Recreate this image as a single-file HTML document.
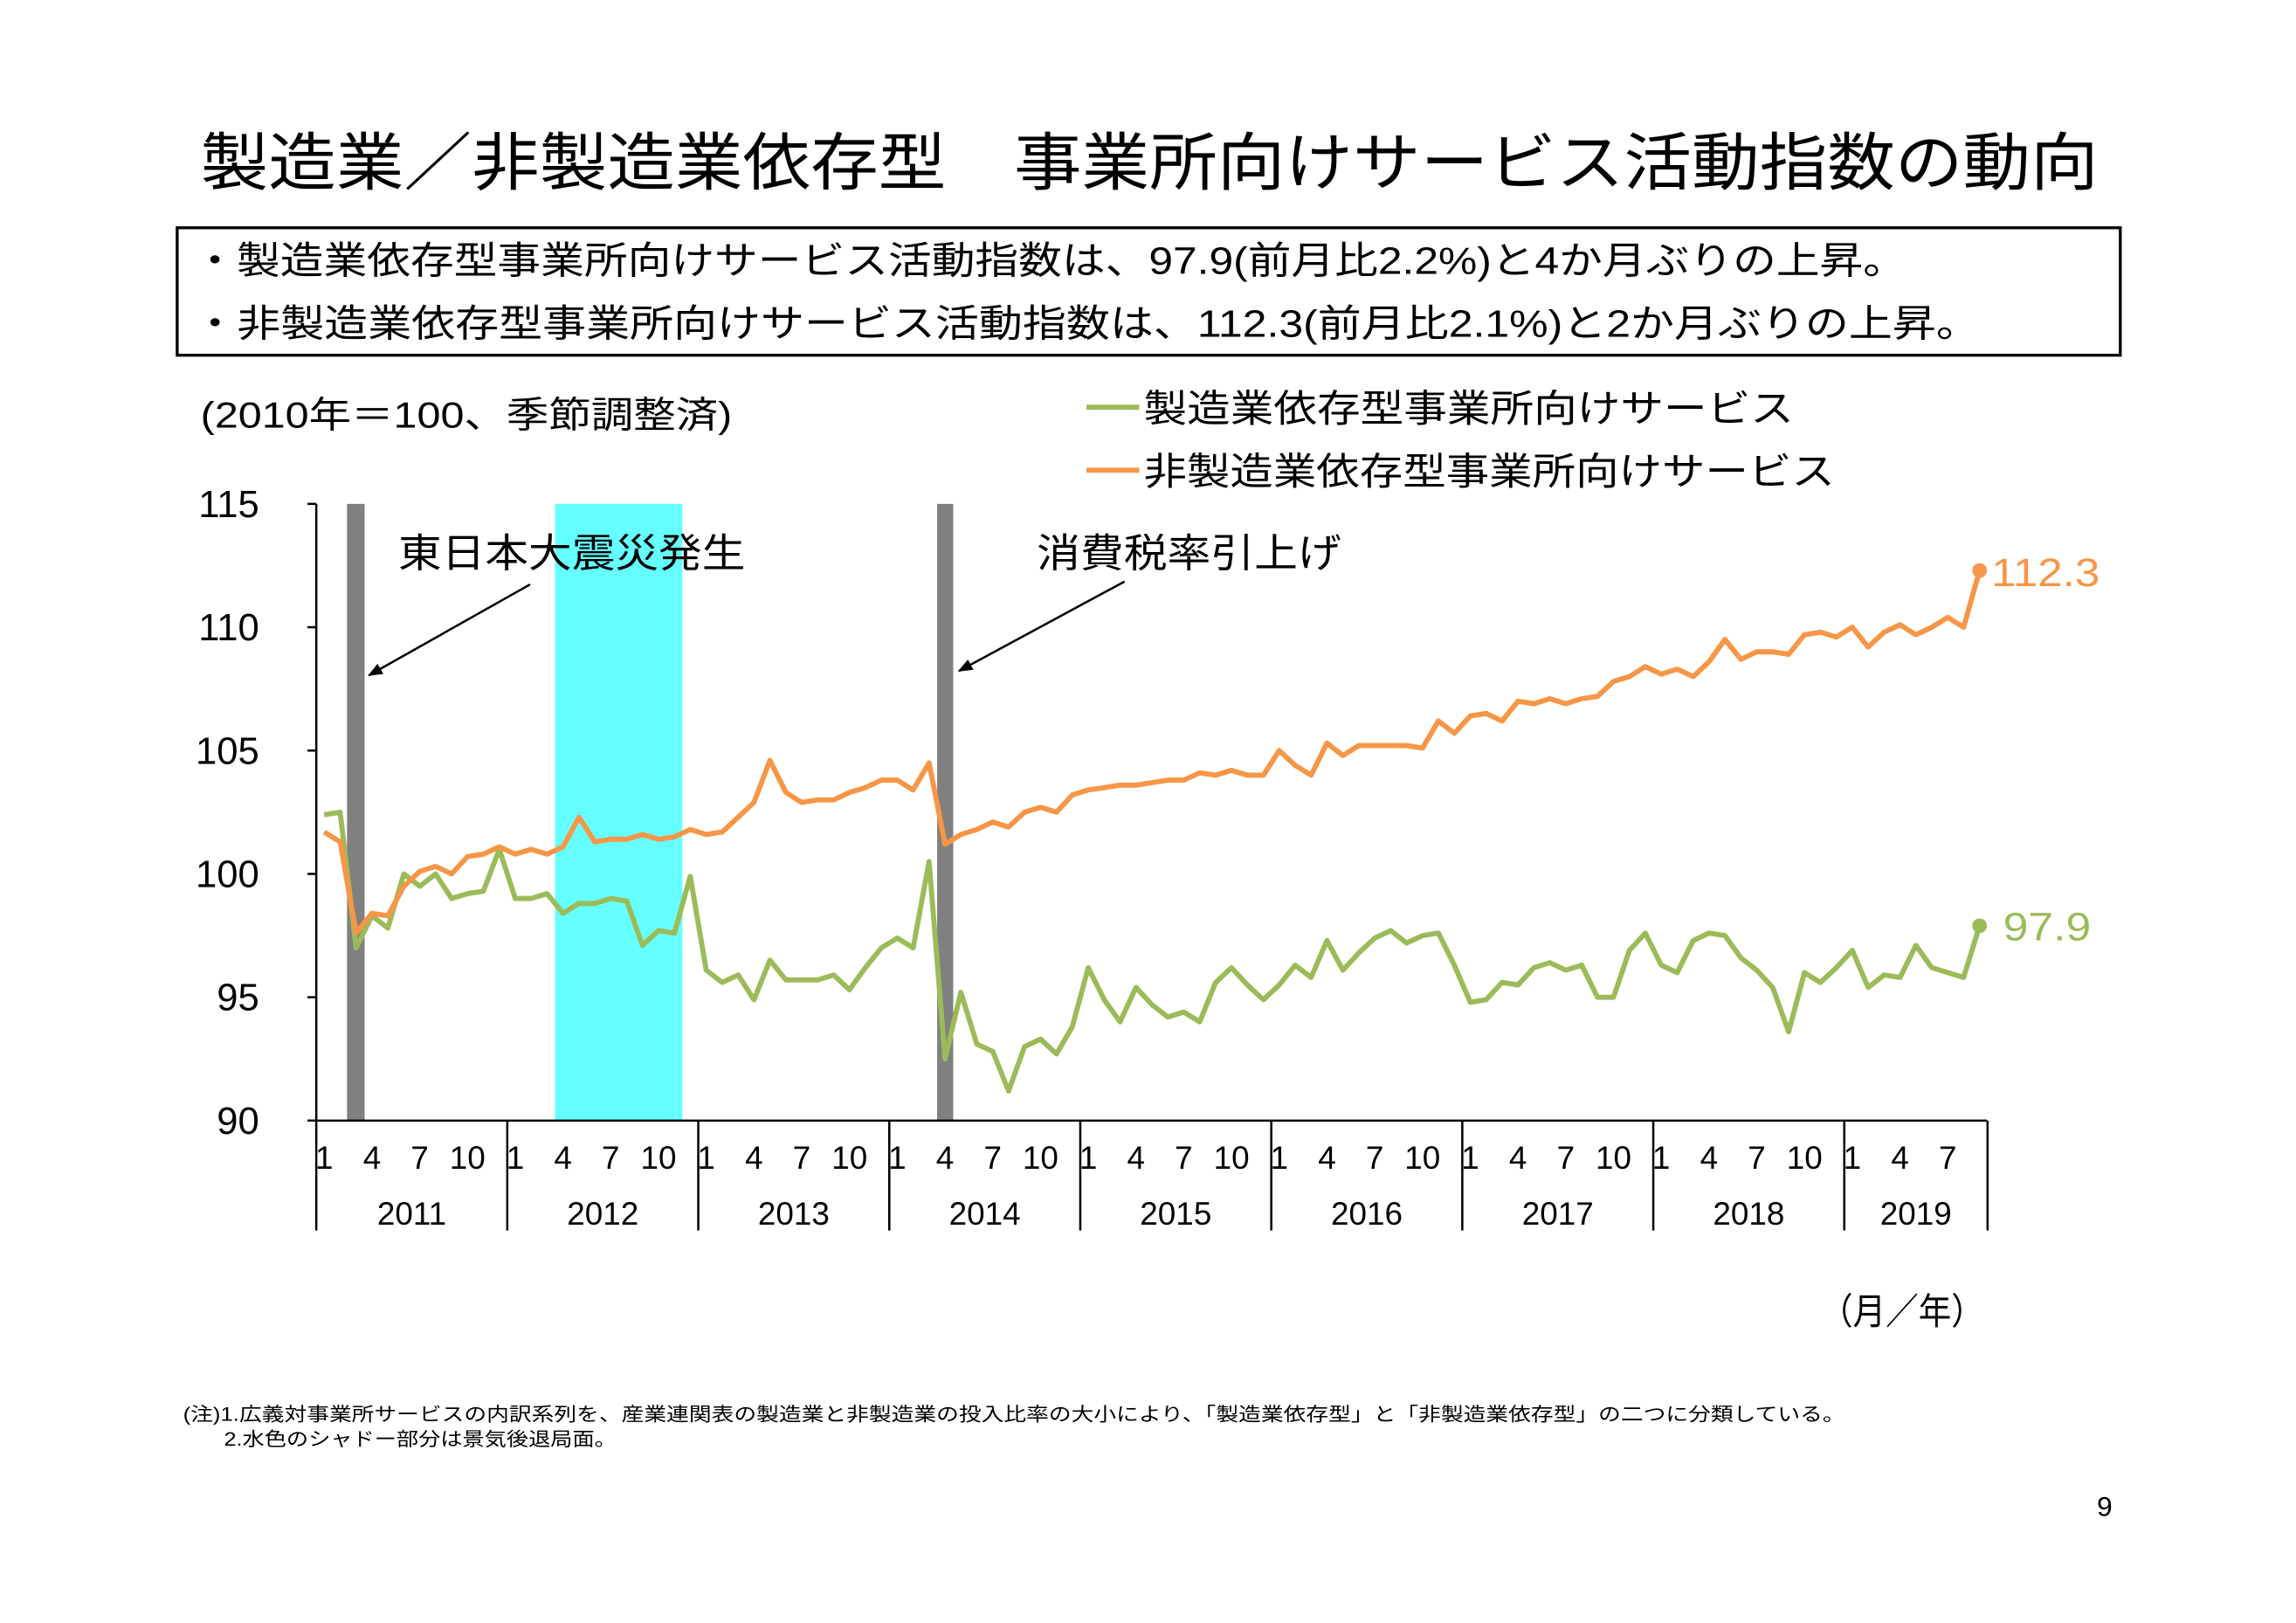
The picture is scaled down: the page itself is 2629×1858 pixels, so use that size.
<!DOCTYPE html>
<html><head><meta charset="utf-8">
<style>
html,body{margin:0;padding:0;background:#fff;}
svg{display:block;}
text{font-family:"Liberation Sans","Noto Sans CJK JP",sans-serif;}
</style></head>
<body>
<svg id="s" width="2629" height="1858" viewBox="0 0 1568 1108" preserveAspectRatio="none" xmlns="http://www.w3.org/2000/svg">
<rect width="1568" height="1108" fill="#fff"/>
<text x="137" y="126" font-size="43" textLength="1296" lengthAdjust="spacingAndGlyphs">製造業／非製造業依存型　事業所向けサービス活動指数の動向</text>
<rect x="121" y="155.5" width="1327" height="87" fill="none" stroke="#000" stroke-width="2"/>
<text x="132" y="187" font-size="26" textLength="1170" lengthAdjust="spacingAndGlyphs">・製造業依存型事業所向けサービス活動指数は、97.9(前月比2.2%)と4か月ぶりの上昇。</text>
<text x="132" y="230" font-size="26" textLength="1220" lengthAdjust="spacingAndGlyphs">・非製造業依存型事業所向けサービス活動指数は、112.3(前月比2.1%)と2か月ぶりの上昇。</text>
<text x="137" y="292" font-size="25" textLength="363" lengthAdjust="spacingAndGlyphs">(2010年＝100、季節調整済)</text>
<line x1="742" y1="278" x2="778" y2="278" stroke="#9bbb59" stroke-width="3.5"/>
<text x="781" y="288" font-size="26" textLength="444" lengthAdjust="spacingAndGlyphs">製造業依存型事業所向けサービス</text>
<line x1="742" y1="321" x2="778" y2="321" stroke="#f79646" stroke-width="3.5"/>
<text x="781" y="331" font-size="26" textLength="472" lengthAdjust="spacingAndGlyphs">非製造業依存型事業所向けサービス</text>
<rect x="237" y="344" width="12" height="421" fill="#808080"/>
<rect x="379" y="344" width="87" height="421" fill="#66ffff"/>
<rect x="640" y="344" width="11" height="421" fill="#808080"/>
<g id="ax" stroke="#000" stroke-width="1.5"></g>
<g id="lab" font-size="26" text-anchor="end"></g>
<g id="ml" font-size="22" text-anchor="middle"></g>
<text x="272" y="387" font-size="27" textLength="237" lengthAdjust="spacingAndGlyphs">東日本大震災発生</text>
<text x="708" y="387" font-size="27" textLength="208" lengthAdjust="spacingAndGlyphs">消費税率引上げ</text>
<defs><marker id="ar" markerWidth="10" markerHeight="8" refX="9" refY="4" orient="auto" markerUnits="userSpaceOnUse"><path d="M0,0 L10,4 L0,8 z" fill="#000"/></marker></defs>
<line x1="362" y1="399" x2="252" y2="461" stroke="#000" stroke-width="1.5" marker-end="url(#ar)"/>
<line x1="768" y1="397" x2="655" y2="458" stroke="#000" stroke-width="1.5" marker-end="url(#ar)"/>
<polyline id="pg" fill="none" stroke="#9bbb59" stroke-width="3.5" stroke-linejoin="round"/>
<polyline id="po" fill="none" stroke="#f79646" stroke-width="3.5" stroke-linejoin="round"/>
<circle id="cg" r="5" fill="#9bbb59"/>
<circle id="co" r="5" fill="#f79646"/>
<text x="1360" y="400" font-size="27" fill="#f79646" textLength="74" lengthAdjust="spacingAndGlyphs">112.3</text>
<text x="1368" y="642" font-size="27" fill="#9bbb59" textLength="60" lengthAdjust="spacingAndGlyphs">97.9</text>
<text x="1243" y="904" font-size="25" textLength="112" lengthAdjust="spacingAndGlyphs">（月／年）</text>
<text x="125" y="970" font-size="13" textLength="1135" lengthAdjust="spacingAndGlyphs">(注)1.広義対事業所サービスの内訳系列を、産業連関表の製造業と非製造業の投入比率の大小により、「製造業依存型」と「非製造業依存型」の二つに分類している。</text>
<text x="153" y="987" font-size="13" textLength="268" lengthAdjust="spacingAndGlyphs">2.水色のシャドー部分は景気後退局面。</text>
<text x="1432" y="1035" font-size="19">9</text>
</svg>
<script>
var g=[102.4,102.5,97.0,98.3,97.8,100.0,99.5,100.0,99.0,99.2,99.3,101.0,
99.0,99.0,99.2,98.4,98.8,98.8,99.0,98.9,97.1,97.7,97.6,99.9,
96.1,95.6,95.9,94.9,96.5,95.7,95.7,95.7,95.9,95.3,96.2,97.0,
97.4,97.0,100.5,92.5,95.2,93.1,92.8,91.2,93.0,93.3,92.7,93.8,
96.2,94.9,94.0,95.4,94.7,94.2,94.4,94.0,95.6,96.2,95.5,94.9,
95.5,96.3,95.8,97.3,96.1,96.8,97.4,97.7,97.2,97.5,97.6,96.3,
94.8,94.9,95.6,95.5,96.2,96.4,96.1,96.3,95.0,95.0,96.9,97.6,
96.3,96.0,97.3,97.6,97.5,96.6,96.1,95.4,93.6,96.0,95.6,96.2,
96.9,95.4,95.9,95.8,97.1,96.2,96.0,95.8,97.9];
var o=[101.7,101.3,97.6,98.4,98.3,99.5,100.1,100.3,100.0,100.7,100.8,101.1,
100.8,101.0,100.8,101.1,102.3,101.3,101.4,101.4,101.6,101.4,101.5,101.8,
101.6,101.7,102.3,102.9,104.6,103.3,102.9,103.0,103.0,103.3,103.5,103.8,
103.8,103.4,104.5,101.2,101.6,101.8,102.1,101.9,102.5,102.7,102.5,103.2,
103.4,103.5,103.6,103.6,103.7,103.8,103.8,104.1,104.0,104.2,104.0,104.0,
105.0,104.4,104.0,105.3,104.8,105.2,105.2,105.2,105.2,105.1,106.2,105.7,
106.4,106.5,106.2,107.0,106.9,107.1,106.9,107.1,107.2,107.8,108.0,108.4,
108.1,108.3,108.0,108.6,109.5,108.7,109.0,109.0,108.9,109.7,109.8,109.6,
110.0,109.2,109.8,110.1,109.7,110.0,110.4,110.0,112.3];
var W=10.87;function X(i){return 216+W*(i+0.5);}function Y(v){return 765-(v-90)*16.84;}
function pts(a){return a.map(function(v,i){return X(i).toFixed(1)+","+Y(v).toFixed(1)}).join(" ");}
document.getElementById("pg").setAttribute("points",pts(g));
document.getElementById("po").setAttribute("points",pts(o));
var cg=document.getElementById("cg");cg.setAttribute("cx",X(104));cg.setAttribute("cy",Y(97.9));
var co=document.getElementById("co");co.setAttribute("cx",X(104));co.setAttribute("cy",Y(112.3));
var NS="http://www.w3.org/2000/svg";
function el(p,t,a,txt){var e=document.createElementNS(NS,t);for(var k in a)e.setAttribute(k,a[k]);if(txt!==undefined)e.textContent=txt;document.getElementById(p).appendChild(e);}
el("ax","line",{x1:216,y1:344,x2:216,y2:840});
el("ax","line",{x1:216,y1:765,x2:1357,y2:765});
[115,110,105,100,95,90].forEach(function(v){var y=Y(v);el("ax","line",{x1:210,y1:y,x2:216,y2:y});el("lab","text",{x:177,y:y+9},String(v));});
for(var yr=0;yr<9;yr++){var x0=216+yr*12*W;var n=yr<8?12:9;var x1=x0+n*W;
el("ax","line",{x1:x1,y1:765,x2:x1,y2:840});
[1,4,7,10].forEach(function(m){if(m<=n)el("ml","text",{x:X(yr*12+m-1),y:798},String(m));});
el("ml","text",{x:(x0+x1)/2,y:836},String(2011+yr));}
</script>
</body></html>
